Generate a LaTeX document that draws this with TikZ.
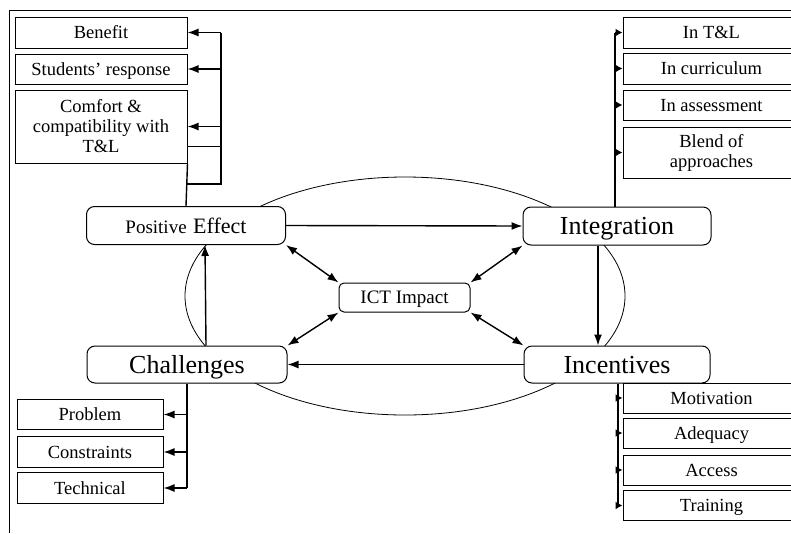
\documentclass[tikz,border=0pt]{standalone}
\usepackage{fontspec}
\setmainfont{Liberation Serif}
\usetikzlibrary{arrows.meta}
\begin{document}
\begin{tikzpicture}[x=1pt,y=-1pt,
  mainbox/.style={draw,fill=white,rounded corners=8pt,line width=1pt,inner sep=0pt,
    text height=18pt,text depth=1pt,font=\fontsize{26}{28}\selectfont},
  sidebox/.style={draw,fill=white,line width=1pt,inner sep=0pt,align=center,font=\fontsize{18.5}{20}\selectfont},
  sideline/.style={sidebox,text height=13pt,text depth=1pt},
  link/.style={line width=1.4pt,-{Latex[length=11pt,width=8pt]}},
  shortlink/.style={line width=1.4pt,-{Latex[length=7pt,width=8pt]}},
  twolink/.style={line width=1.4pt,{Latex[length=11pt,width=8pt]}-{Latex[length=11pt,width=8pt]}}]
\useasboundingbox (0,0) rectangle (791,533);

% Marco y elipse
\draw[line width=0.8pt] (9,533) -- (9,10) -- (791,10);
\draw[line width=0.8pt] (405,296) ellipse [x radius=220pt, y radius=119pt];

% Nodos principales
\node[mainbox, minimum width=199pt, minimum height=38pt, text height=16pt] (pos) at (186,225.5)
  {{\fontsize{19}{20}\selectfont Positive} {\fontsize{22}{24}\selectfont Effect}};
\node[mainbox, minimum width=188pt, minimum height=38pt] (integ) at (617,226) {Integration};
\node[mainbox, minimum width=200pt, minimum height=37pt] (chal) at (187,364.5) {Challenges};
\node[mainbox, minimum width=186pt, minimum height=37pt] (incent) at (617,364.5) {Incentives};
\node[mainbox, rounded corners=5pt, minimum width=131pt, minimum height=29pt,
  text height=13.5pt, text depth=1pt, font=\fontsize{19}{20}\selectfont] (ict) at (404.5,297.5) {ICT Impact};

% Ciclo exterior
\draw[link] (pos.east) -- (integ.west);
\draw[link] ([xshift=-19pt]integ.south) -- ([xshift=-19pt]incent.north);
\draw[link] (incent.west) -- (chal.east);
\draw[link] ([xshift=19pt]chal.north) -- ([xshift=19pt]pos.south);

% Flechas hacia el centro
\draw[twolink] (ict.north west) -- (pos.south east);
\draw[twolink] (ict.north east) -- (integ.south west);
\draw[twolink] (ict.south west) -- (chal.north east);
\draw[twolink] (ict.south east) -- (incent.north west);

% Cajas de Positive Effect
\foreach \n/\y/\h/\s/\t in {ben/32.5/31pt/sideline/Benefit, stu/69/30pt/sideline/Students' response,
    com/126.5/73pt/sidebox/{Comfort \&\\compatibility with\\T\&L}} {
  \node[\s, minimum width=172pt, minimum height=\h] (\n) at (101,\y) {\t};
}
\coordinate (lt) at (221,184);
\coordinate (cm) at ([yshift=-19.5pt]com.east);
\draw[line width=1.4pt] (pos.north) -- (com.south east);
\draw[line width=1.4pt] (pos.north |- lt) -- (lt) -- (lt |- ben.east);
\draw[line width=1pt] (cm) -- (lt |- cm);
\foreach \n in {ben,stu,com} {
  \draw[link] (lt |- \n.east) -- (\n.east);
}

% Cajas de Integration
\foreach \n/\y/\h/\s/\t in {itl/32.5/31pt/sideline/In T\&L, icur/68.5/31pt/sideline/In curriculum,
    iass/105/30pt/sideline/In assessment, ibl/152.5/51pt/sidebox/{Blend of\\approaches}} {
  \node[\s, minimum width=177pt, minimum height=\h] (\n) at (711.5,\y) {\t};
}
\coordinate (rt) at ([xshift=-2pt]integ.north);
\draw[line width=1.4pt] (rt) -- (rt |- itl.west);
\foreach \n in {itl,icur,iass,ibl} {
  \draw[shortlink] (rt |- \n.west) -- (\n.west);
}

% Cajas de Incentives
\foreach \n/\y/\t in {mot/398/Motivation, adq/433/Adequacy, acc/470/Access, trn/505.5/Training} {
  \node[sideline, minimum width=177pt, minimum height=30pt] (\n) at (711.5,\y) {\t};
}
\coordinate (rb) at ([xshift=1pt]incent.south);
\draw[line width=1.4pt] (rb) -- (rb |- trn.west);
\foreach \n in {mot,adq,acc,trn} {
  \draw[shortlink] (rb |- \n.west) -- (\n.west);
}

% Cajas de Challenges
\foreach \n/\y/\t in {prob/414.5/Problem, cons/452/Constraints, tech/488/Technical} {
  \node[sideline, minimum width=146pt, minimum height=30.5pt] (\n) at (90,\y) {\t};
}
\draw[line width=1.4pt] (chal.south) -- (chal.south |- tech.east);
\foreach \n in {prob,cons,tech} {
  \draw[link] (chal.south |- \n.east) -- (\n.east);
}

\end{tikzpicture}
\end{document}
